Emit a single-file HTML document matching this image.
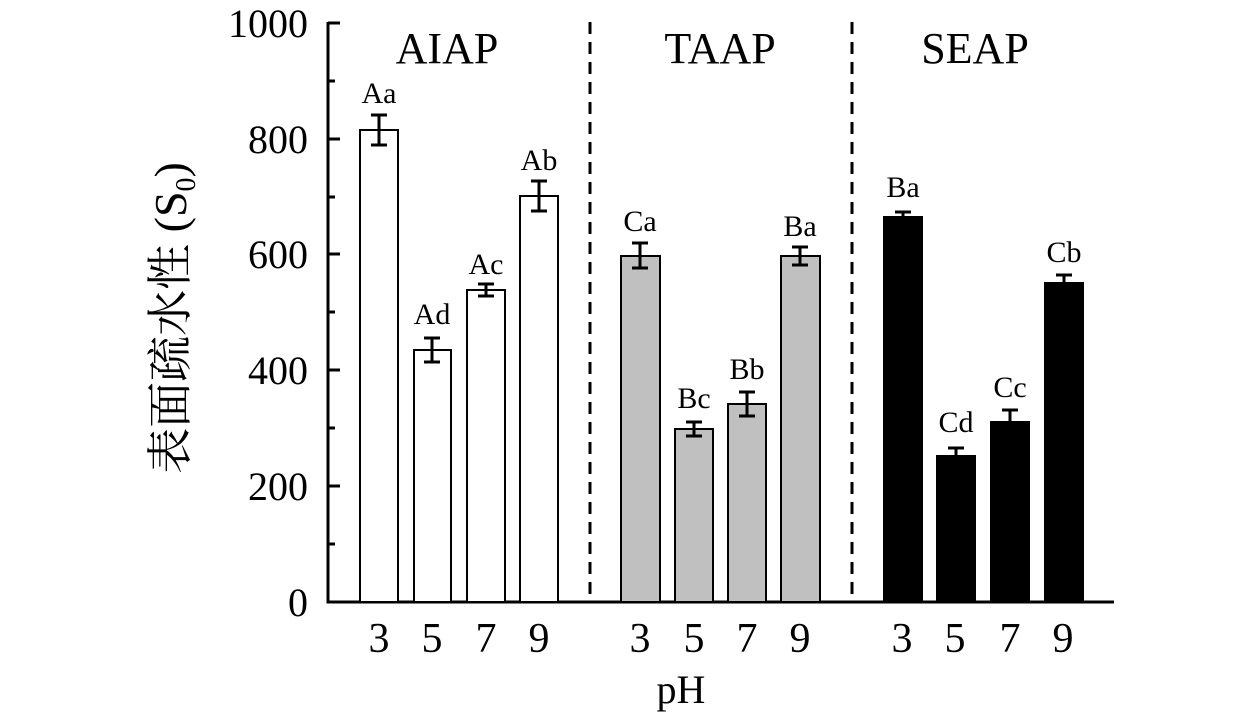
<!DOCTYPE html>
<html><head><meta charset="utf-8"><style>body{margin:0;background:#fff}</style></head><body>
<svg width="1260" height="716" xmlns="http://www.w3.org/2000/svg" font-family="Liberation Serif, serif">
<rect width="1260" height="716" fill="#fff"/>
<g stroke="#000" stroke-width="3" fill="none">
<path d="M328,22 V602 H1114"/>
<path d="M328,23h12M328,139h12M328,254h12M328,370h12M328,486h12M328,81h7M328,197h7M328,312h7M328,428h7M328,544h7"/>
</g>
<g stroke="#000" stroke-width="3" stroke-dasharray="12,8">
<line x1="590" y1="22" x2="590" y2="602"/>
<line x1="852" y1="22" x2="852" y2="602"/>
</g>
<g font-size="40" text-anchor="end">
<text x="308" y="37">1000</text><text x="308" y="153">800</text><text x="308" y="268">600</text><text x="308" y="384">400</text><text x="308" y="500">200</text><text x="308" y="616">0</text>
</g>
<g font-size="44" text-anchor="middle">
<text x="447" y="63">AIAP</text><text x="720" y="63">TAAP</text><text x="975" y="63">SEAP</text>
</g>
<text x="681" y="703" font-size="40" text-anchor="middle">pH</text>
<g font-size="42" text-anchor="middle">
<text x="379" y="652">3</text><text x="432" y="652">5</text><text x="486" y="652">7</text><text x="539" y="652">9</text>
<text x="640" y="652">3</text><text x="694" y="652">5</text><text x="747" y="652">7</text><text x="800" y="652">9</text>
<text x="902" y="652">3</text><text x="955" y="652">5</text><text x="1010" y="652">7</text><text x="1063" y="652">9</text>
</g>
<text transform="translate(186,318) rotate(-90)" font-size="46" text-anchor="middle" font-family="Liberation Serif, 'Noto Serif CJK SC', serif">表面疏水性 (S<tspan font-size="28" dy="9">0</tspan><tspan dy="-9">)</tspan></text>
<g stroke="#000" stroke-width="2">
<rect x="360" y="130" width="38" height="472" fill="#fff"/>
<rect x="414" y="350" width="37" height="252" fill="#fff"/>
<rect x="467" y="290" width="38" height="312" fill="#fff"/>
<rect x="520" y="196" width="38" height="406" fill="#fff"/>
<rect x="621" y="256" width="39" height="346" fill="#c0c0c0"/>
<rect x="675" y="429" width="38" height="173" fill="#c0c0c0"/>
<rect x="728" y="404" width="38" height="198" fill="#c0c0c0"/>
<rect x="781" y="256" width="39" height="346" fill="#c0c0c0"/>
<rect x="884" y="217" width="38" height="385" fill="#000"/>
<rect x="937" y="456" width="38" height="146" fill="#000"/>
<rect x="991" y="422" width="38" height="180" fill="#000"/>
<rect x="1045" y="283" width="38" height="319" fill="#000"/>
</g>
<g stroke="#000" stroke-width="3" fill="none">
<path d="M379,115v30M371,115h16M371,145h16"/>
<path d="M432,338v24M424,338h16M424,362h16"/>
<path d="M486,284v12M478,284h16M478,296h16"/>
<path d="M539,181v30M531,181h16M531,211h16"/>
<path d="M640,243v25M632,243h16M632,268h16"/>
<path d="M694,422v14M686,422h16M686,436h16"/>
<path d="M747,392v24M739,392h16M739,416h16"/>
<path d="M800,247v18M792,247h16M792,265h16"/>
<path d="M903,212v5M895,212h16"/>
<path d="M956,448v8M948,448h16"/>
<path d="M1010,410v12M1002,410h16"/>
<path d="M1064,275v8M1056,275h16"/>
</g>
<g font-size="30" text-anchor="middle">
<text x="379" y="103">Aa</text><text x="432" y="324">Ad</text><text x="486" y="274">Ac</text><text x="539" y="170">Ab</text>
<text x="640" y="231">Ca</text><text x="694" y="408">Bc</text><text x="747" y="379">Bb</text><text x="800" y="236">Ba</text>
<text x="903" y="197">Ba</text><text x="956" y="432">Cd</text><text x="1010" y="397">Cc</text><text x="1064" y="262">Cb</text>
</g>
</svg>
</body></html>
